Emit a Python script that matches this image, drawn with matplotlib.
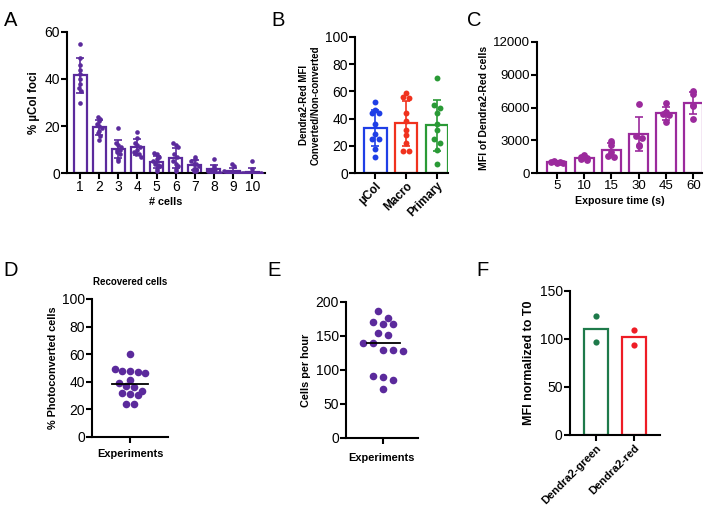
import numpy as np
import matplotlib
matplotlib.use("Agg")
from matplotlib import pyplot as plt

plt.rcParams['font.family'] = ['Liberation Sans', 'DejaVu Sans']

# A - % uCol foci per number of cells
a_cells = [1, 2, 3, 4, 5, 6, 7, 8, 9, 10]
a_pts = [
    [55, 49, 46, 44, 42, 40, 38, 36, 35, 30],
    [24, 23, 22, 21, 20, 19, 18, 17, 16, 14],
    [19, 13, 12, 11, 10, 10, 9, 8, 6, 5],
    [17.5, 15, 13, 12, 11, 10, 9, 8, 8, 7],
    [8.5, 8, 7, 6, 5, 4, 3.5, 3, 2, 1],
    [13, 12, 11, 8, 7, 5, 4, 3, 2, 1],
    [7, 6, 5, 4, 4, 3, 2, 2, 1, 1],
    [6, 3, 2, 2, 1, 1, 0.5, 0.5, 0, 0],
    [4, 3, 1, 0, 0, 0, 0, 0, 0, 0],
    [5, 2, 0, 0, 0, 0, 0, 0, 0, 0],
]

# B - Dendra2-Red converted / non-converted
b_groups = ["µCol", "Macro", "Primary"]
b_pts = [
    [52, 46, 44, 44, 36, 29, 25, 25, 18, 12],
    [59, 56, 55, 44, 38, 32, 28, 22, 16, 16],
    [70, 50, 48, 44, 36, 32, 25, 22, 17, 7],
]

# C - MFI vs exposure time
c_times = ["5", "10", "15", "30", "45", "60"]
c_pts = [
    [1100, 1050, 1000, 950, 900],
    [1700, 1500, 1400, 1300, 1250],
    [2900, 2600, 1900, 1600, 1500],
    [6300, 3400, 3200, 2600, 2500],
    [6400, 5600, 5400, 5300, 4700],
    [7500, 7200, 6200, 6100, 5000],
]

# D - recovered cells
d_vals = [60, 49, 48, 48, 47, 46, 41, 39, 37, 36, 33, 32, 31, 30, 24, 24]

# E - cells per hour
e_vals = [186, 176, 170, 168, 168, 155, 152, 140, 140, 130, 130, 128, 91, 90, 85, 72]

# F - MFI normalized to T0
f_groups = ["Dendra2-green", "Dendra2-red"]
f_pts = [[124, 97], [109, 94]]

purple = "#5b2a9c"
magenta = "#9b2a9c"
b_cols = ["#1f3fe6", "#f0321e", "#2a9a36"]
f_cols = ["#1e7a4a", "#ee1c25"]


def swarm(vals, bin_w, step):
    vals = np.asarray(vals, dtype=float)
    off = np.zeros(len(vals))
    bins = np.round(vals / bin_w)
    for b in np.unique(bins):
        idx = np.where(bins == b)[0]
        n = len(idx)
        off[idx] = (np.arange(n) - (n - 1) / 2) * step
    return off


def style(ax, ts=10):
    for s in ["top", "right"]:
        ax.spines[s].set_visible(False)
    for s in ["left", "bottom"]:
        ax.spines[s].set_linewidth(1.5)
    ax.tick_params(width=1.5, length=4, labelsize=ts, pad=1)


def bar_dots(ax, pts, cols, width, s, bin_w, step):
    for i, p in enumerate(pts):
        c = cols[i] if isinstance(cols, list) else cols
        m = np.mean(p)
        sd = np.std(p, ddof=1)
        ax.bar(i, m, width, facecolor="white", edgecolor=c, linewidth=1.6, zorder=1)
        ax.errorbar(i, m, yerr=sd, color=c, capsize=3, elinewidth=1.2,
                    capthick=1.2, zorder=3)
        ax.scatter(i + swarm(p, bin_w, step), p, s=s, color=c, zorder=4,
                   linewidths=0)


fig = plt.figure(figsize=(7.13, 5.05), dpi=100)
bold = dict(fontweight="bold")

# ---- A
ax = fig.add_axes([0.094, 0.657, 0.278, 0.28])
bar_dots(ax, a_pts, purple, 0.68, 11, 2.0, 0.13)
ax.set_xlim(-0.68, 9.68)
ax.set_ylim(0, 60)
ax.set_yticks([0, 20, 40, 60])
ax.set_xticks(range(len(a_cells)))
ax.set_xticklabels([str(c) for c in a_cells])
ax.set_ylabel("% µCol foci", fontsize=8.3, labelpad=3, **bold)
ax.set_xlabel("# cells", fontsize=7.8, labelpad=2, **bold)
style(ax)

# ---- B
ax = fig.add_axes([0.498, 0.657, 0.130, 0.27])
bar_dots(ax, b_pts, b_cols, 0.74, 18, 4.0, 0.22)
ax.set_xlim(-0.65, 2.35)
ax.set_ylim(0, 100)
ax.set_yticks([0, 20, 40, 60, 80, 100])
ax.set_xticks(range(len(b_groups)))
ax.set_xticklabels(b_groups, rotation=45, ha="right", rotation_mode="anchor",
                   **bold)
ax.set_ylabel("Dendra2-Red MFI\nConverted/Non-converted", fontsize=7,
              labelpad=3, **bold)
style(ax)
ax.tick_params(axis="x", labelsize=8.5)

# ---- C
ax = fig.add_axes([0.753, 0.657, 0.232, 0.26])
bar_dots(ax, c_pts, magenta, 0.7, 24, 300, 0.22)
ax.set_xlim(-0.73, 5.33)
ax.set_ylim(0, 12000)
ax.set_yticks([0, 3000, 6000, 9000, 12000])
ax.set_xticks(range(len(c_times)))
ax.set_xticklabels(c_times)
ax.set_ylabel("MFI of Dendra2-Red cells", fontsize=7.5, labelpad=3, **bold)
ax.set_xlabel("Exposure time (s)", fontsize=7.7, labelpad=3, **bold)
style(ax, 9.5)

# ---- D
ax = fig.add_axes([0.129, 0.135, 0.107, 0.273])
ax.scatter(swarm(d_vals, 6, 0.2), d_vals, s=30, color=purple, linewidths=0, zorder=3)
ax.plot([-0.48, 0.48], [np.median(d_vals)] * 2, color="black", lw=1.3, zorder=4)
ax.set_xlim(-1, 1)
ax.set_ylim(0, 100)
ax.set_yticks([0, 20, 40, 60, 80, 100])
ax.set_xticks([0])
ax.set_xticklabels([""])
ax.set_ylabel("% Photoconverted cells", fontsize=7.8, labelpad=3, **bold)
ax.set_xlabel("Experiments", fontsize=7.9, labelpad=4, **bold)
ax.set_title("Recovered cells", fontsize=7, pad=10, **bold)
style(ax)

# ---- E
ax = fig.add_axes([0.485, 0.133, 0.101, 0.269])
ax.scatter(swarm(e_vals, 15, 0.27), e_vals, s=30, color=purple, linewidths=0, zorder=3)
ax.plot([-0.43, 0.46], [np.median(e_vals)] * 2, color="black", lw=1.3, zorder=4)
ax.set_xlim(-1, 0.95)
ax.set_ylim(0, 200)
ax.set_yticks([0, 50, 100, 150, 200])
ax.set_xticks([0])
ax.set_xticklabels([""])
ax.set_ylabel("Cells per hour", fontsize=7.8, labelpad=3, **bold)
ax.set_xlabel("Experiments", fontsize=7.9, labelpad=6, **bold)
style(ax)

# ---- F
ax = fig.add_axes([0.799, 0.139, 0.127, 0.285])
for i, p in enumerate(f_pts):
    ax.bar(i, np.mean(p), 0.63, facecolor="white", edgecolor=f_cols[i],
           linewidth=1.6, zorder=1)
    ax.scatter([i] * len(p), p, s=20, color=f_cols[i], linewidths=0, zorder=3)
ax.set_xlim(-0.68, 1.68)
ax.set_ylim(0, 150)
ax.set_yticks([0, 50, 100, 150])
ax.set_xticks(range(len(f_groups)))
ax.set_xticklabels(f_groups, rotation=45, ha="right", rotation_mode="anchor",
                   **bold)
ax.set_ylabel("MFI normalized to T0", fontsize=9, labelpad=3, **bold)
style(ax)
ax.tick_params(axis="x", labelsize=8.0, pad=2)

# panel letters
for lab, x, y in [("A", 0.005, 0.978), ("B", 0.381, 0.978), ("C", 0.655, 0.978),
                  ("D", 0.005, 0.483), ("E", 0.375, 0.483), ("F", 0.668, 0.483)]:
    fig.text(x, y, lab, fontsize=14.5, va="top", ha="left")

fig.savefig("out.png", dpi=100)
